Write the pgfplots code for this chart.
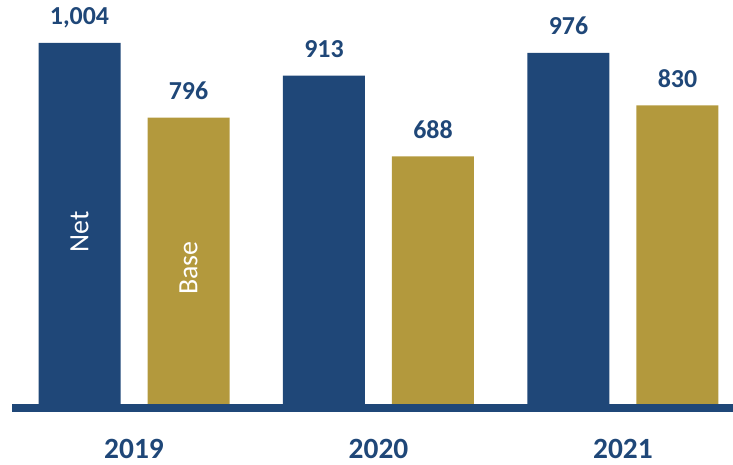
\documentclass[border=0pt]{standalone}
\usepackage{pgfplots}
\pgfplotsset{compat=1.18}
\usepackage{fontspec}
\setmainfont{Carlito}
\definecolor{netblue}{HTML}{1F4778}
\definecolor{basegold}{HTML}{B3993D}
\begin{document}
\begin{tikzpicture}
\path[use as bounding box] (-12bp,-61bp) rectangle (721bp,404bp);
\begin{axis}[
  at={(0,0)}, anchor=south west,
  scale only axis, width=721bp, height=404bp,
  xmin=-0.499, xmax=2.45, ymin=0, ymax=1123,
  axis x line=bottom, axis y line=none,
  x axis line style={draw=none,-},
  xtick={0,1,2}, xticklabels={2019,2020,2021},
  major tick length=0pt,
  xticklabel style={anchor=base, yshift=-54bp, text=netblue, font=\fontsize{29.5}{34}\selectfont\bfseries},
  ytick=\empty,
  clip=false,
  bar width=82bp,
  /pgf/number format/.cd, 1000 sep={,}, assume math mode=true, /pgfplots/.cd,
  nodes near coords,
  nodes near coords style={anchor=base, yshift=18bp, text=netblue, font=\fontsize{26}{30}\selectfont\bfseries},
]
\addplot[ybar, bar shift=-54.5bp, fill=netblue, draw=none,
  every node near coord/.append style={xshift=-54.5bp}] coordinates {(0,1004) (1,913) (2,976)};
\addplot[ybar, bar shift=54.5bp, fill=basegold, draw=none,
  every node near coord/.append style={xshift=54.5bp}] coordinates {(0,796) (1,688) (2,830)};
\draw[netblue, line width=8bp] ([yshift=-4bp]rel axis cs:0,0) -- ([yshift=-4bp]rel axis cs:1,0);
\node[rotate=90, text=white, font=\fontsize{28}{32}\selectfont] at ([xshift=-54.5bp]axis cs:0,478) {Net};
\node[rotate=90, text=white, font=\fontsize{28}{32}\selectfont] at ([xshift=54.5bp]axis cs:0,378) {Base};
\end{axis}
\end{tikzpicture}
\end{document}
